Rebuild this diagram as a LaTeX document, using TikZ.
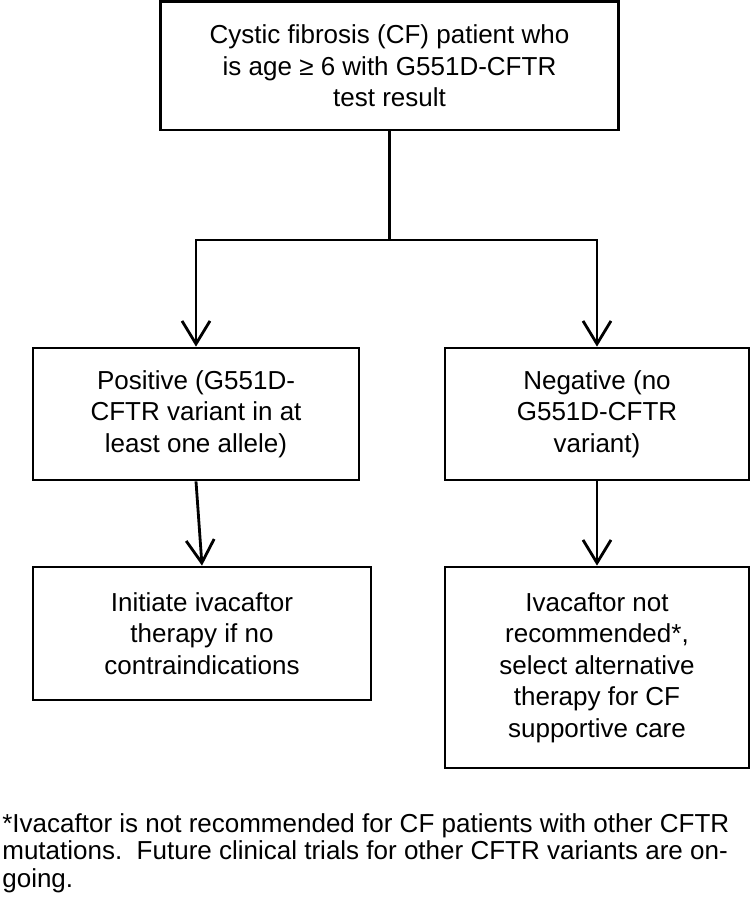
\documentclass[tikz,border=0pt]{standalone}
\usepackage{fontspec}
\setmainfont{Liberation Sans}
\usetikzlibrary{arrows.meta}

\tikzset{
  flowbox/.style={draw, line width=1.6pt, align=center, inner sep=0pt,
    font=\fontsize{14.8}{17.9}\selectfont},
  flowline/.style={line width=1.6pt},
  flowarrow/.style={flowline, -{Straight Barb[length=4.6mm, width=5.6mm]}},
}

\begin{document}
\begin{tikzpicture}[x=0.02cm, y=-0.02cm]
    \useasboundingbox (0,0) rectangle (750,897);

    % test result
    \node[flowbox, minimum width=9.16cm, minimum height=2.57cm] (cf) at (389.5,65.75)
        {Cystic fibrosis (CF) patient who\\is age ≥ 6 with G551D-CFTR\\test result};

    % positive / negative
    \node[flowbox, minimum width=6.52cm, minimum height=2.64cm] (pos) at (196,414)
        {Positive (G551D-\\CFTR variant in at\\least one allele)};
    \node[flowbox, minimum width=6.08cm, minimum height=2.64cm] (neg) at (597,414)
        {Negative (no\\G551D-CFTR\\variant)};

    % what to do
    \node[flowbox, minimum width=6.76cm, minimum height=2.66cm] (init) at (202,633.5)
        {Initiate ivacaftor\\therapy if no\\contraindications};
    \node[flowbox, minimum width=6.08cm, minimum height=4.02cm] (alt) at (597,667.5)
        {Ivacaftor not\\recommended*,\\select alternative\\therapy for CF\\supportive care};

    \coordinate (split) at (cf.south |- 0,240);
    \draw[flowline] (cf.south) -- (split);
    \draw[flowarrow] (split) -| (pos.north);
    \draw[flowarrow] (split) -| (neg.north);
    \draw[flowarrow] (pos.south) -- (init.north);
    \draw[flowarrow] (neg.south) -- (alt.north);

    \node[anchor=north west, align=left, inner sep=0pt,
        font=\fontsize{14.8}{15.6}\selectfont] (note) at (2,813)
        {*Ivacaftor is not recommended for CF patients with other CFTR\\
         mutations.\ \ Future clinical trials for other CFTR variants are on-\\
         going.};
\end{tikzpicture}
\end{document}
